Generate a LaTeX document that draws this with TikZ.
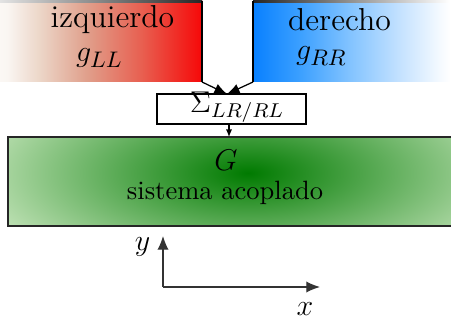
\documentclass[tikz,border=0pt]{standalone}
\usetikzlibrary{arrows.meta}
\definecolor{rA}{RGB}{250,246,242}
\definecolor{rB}{RGB}{236,214,200}
\definecolor{rC}{RGB}{224,160,140}
\definecolor{rD}{RGB}{232,95,80}
\definecolor{rE}{RGB}{246,8,8}
\definecolor{bA}{RGB}{8,128,255}
\definecolor{bB}{RGB}{60,160,255}
\definecolor{bC}{RGB}{130,195,255}
\definecolor{bD}{RGB}{195,225,255}
\definecolor{bE}{RGB}{245,250,255}
\definecolor{gIn}{RGB}{0,122,0}
\definecolor{gOut}{RGB}{192,226,182}
\pgfdeclarehorizontalshading{redsh}{100bp}{color(0bp)=(white); color(25bp)=(white); color(33bp)=(rA); color(40bp)=(rB); color(50bp)=(rC); color(62bp)=(rD); color(75bp)=(rE); color(100bp)=(rE)}
\pgfdeclarehorizontalshading{bluesh}{100bp}{color(0bp)=(bA); color(25bp)=(bA); color(37bp)=(bB); color(49.5bp)=(bC); color(62bp)=(bD); color(72.5bp)=(bE); color(75bp)=(white); color(100bp)=(white)}
\tikzset{
  box/.style={rectangle, inner sep=0pt, outer sep=0pt},
  bigarrow/.style={line width=0.5pt, -{Latex[length=5pt,width=4pt]}},
  smallarrow/.style={line width=0.5pt, -{Latex[length=3pt,width=2.5pt]}},
  axisarrow/.style={line width=0.5pt, black!80, -{Latex[length=5.5pt,width=4.5pt]}},
  border/.style={line width=0.6pt},
  lbl/.style={inner sep=0pt, font=\fontsize{12.7}{15}\selectfont},
}
\begin{document}
\begin{tikzpicture}[x=0.4pt, y=-0.4pt]
\useasboundingbox (0,0) rectangle (451,324);
% boxes
\node[box, shading=redsh, minimum width=92.8pt, minimum height=32.4pt] (L) at (86,41.5) {};
\node[box, shading=bluesh, minimum width=78.8pt, minimum height=32.4pt] (R) at (351.5,41.5) {};
\node[box, draw, border, fill=white, minimum width=59.6pt, minimum height=12pt] (S) at (231.5,109) {};
\node[box, minimum width=188.8pt, minimum height=35.6pt] (G) at (244,181.5) {};
% green radial shading
\begin{scope}
  \clip (G.south west) rectangle (G.north east);
  \fill[gOut] (G.south west) rectangle (G.north east);
  \shade[inner color=gIn, outer color=gOut] (248,173) ellipse [x radius=112pt, y radius=44pt];
\end{scope}
\draw[border, black!85] (G.south west) rectangle (G.north east);
% borders of red and blue boxes
\shade[left color=white, middle color=black!30, right color=black!85] (L.north west) rectangle ([yshift=-0.5pt]L.north east);
\draw[border] (L.north east) -- (L.south east);
\shade[left color=black!85, middle color=black!30, right color=white] (R.north west) rectangle ([yshift=-0.5pt]R.north east);
\draw[border] (R.north west) -- (R.south west);
% texts
\node[lbl, anchor=base] (tL) at (112.5,28) {izquierdo};
\node[lbl, anchor=base] (gL) at (99.5,62) {$g_{LL}$};
\node[lbl, anchor=base] (tR) at (339.5,31) {derecho};
\node[lbl, anchor=base] (gR) at (321.5,60) {$g_{RR}$};
\node[inner sep=0pt, anchor=base, font=\fontsize{11.6}{14}\selectfont] (tS) at (237,113) {$\Sigma_{LR/RL}$};
\node[lbl, anchor=base] (tG) at (226,171) {$G$};
\node[inner sep=0pt, anchor=base, font=\fontsize{10.6}{13}\selectfont] (tG2) at (225,200) {sistema acoplado};
% arrows
\coordinate (Sin) at (227,94);
\coordinate (Sout) at (229,124);
\draw[bigarrow] (L.south east) -- (Sin);
\draw[bigarrow] (R.south west) -- (Sin);
\draw[smallarrow] (Sout) -- (Sout |- G.north);
% axes
\coordinate (O) at (163,287);
\coordinate (Yt) at (163,236);
\coordinate (Xt) at (320,287);
\draw[axisarrow] (O) -- (Yt);
\draw[axisarrow] (O) -- (Xt);
\node[lbl] (ylab) at (142.5,246.5) {$y$};
\node[lbl] (xlab) at (305,309) {$x$};
\end{tikzpicture}
\end{document}
